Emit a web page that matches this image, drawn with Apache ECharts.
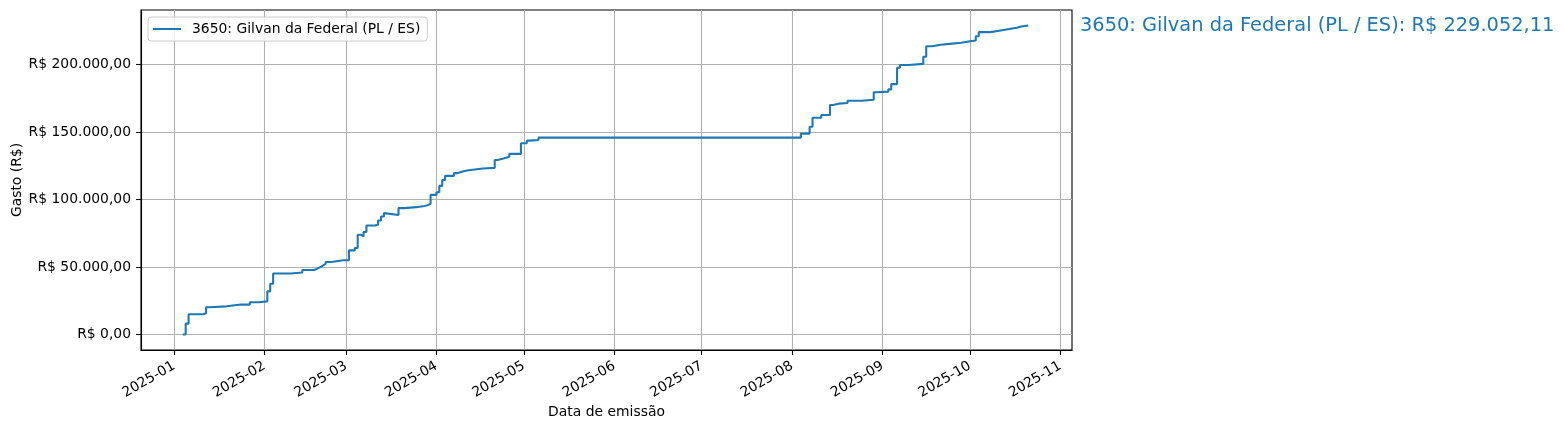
<!DOCTYPE html>
<html>
<head>
<meta charset="utf-8">
<script src="https://cdn.jsdelivr.net/npm/echarts@6/dist/echarts.min.js"></script>
<style>
html,body{margin:0;padding:0;background:#fff;}
#c{width:1565px;height:430px;}
</style>
</head>
<body>
<div id="c"></div>
<script>
// ---- DATA ----
const seriesName = '3650: Gilvan da Federal (PL / ES)';
const dates = [
  '2025-01-04','2025-01-05','2025-01-06','2025-01-11','2025-01-12','2025-01-13','2025-01-19','2025-01-24','2025-01-24','2025-01-27','2025-01-30',
  '2025-02-02','2025-02-03','2025-02-04','2025-02-10','2025-02-14','2025-02-18','2025-02-19','2025-02-20','2025-02-21','2025-02-22','2025-02-24','2025-02-28','2025-02-28',
  '2025-03-02','2025-03-04','2025-03-05','2025-03-06','2025-03-07','2025-03-08','2025-03-11','2025-03-12','2025-03-13','2025-03-14','2025-03-14','2025-03-19','2025-03-21','2025-03-25','2025-03-28','2025-03-29','2025-03-30',
  '2025-04-01','2025-04-02','2025-04-03','2025-04-04','2025-04-07','2025-04-08','2025-04-10','2025-04-12','2025-04-17','2025-04-21','2025-04-22','2025-04-24','2025-04-26','2025-04-28','2025-04-28','2025-04-30',
  '2025-05-02','2025-05-03','2025-05-06',
  '2025-08-04','2025-08-07','2025-08-08','2025-08-11','2025-08-14','2025-08-15','2025-08-17','2025-08-20','2025-08-25','2025-08-29','2025-08-30',
  '2025-09-03','2025-09-04','2025-09-06','2025-09-07','2025-09-10','2025-09-15','2025-09-16','2025-09-18','2025-09-21','2025-09-24','2025-09-28',
  '2025-10-01','2025-10-03','2025-10-03','2025-10-04','2025-10-08','2025-10-11','2025-10-14','2025-10-17','2025-10-19','2025-10-21'
];
const values = [
  0,8100,15000,15800,20200,20900,22200,21500,22200,23900,24600,
  32000,37700,45300,46000,47800,48600,49800,51000,52300,53800,55000,56100,55000,
  62400,64100,74000,72700,76000,80800,81600,84500,87500,90000,88600,93700,94400,95200,95900,96900,103500,
  105500,110200,114600,117600,119600,120800,121800,123000,123500,129400,130400,131800,133900,132900,133900,141800,
  143700,144200,145900,
  148900,154000,160700,162700,170100,171100,171600,173300,174000,179500,180000,
  181700,185600,197700,199700,200600,205800,213700,214700,215400,216200,217400,
  217900,219400,221100,224100,225100,226300,227300,228500,229052.11,229052.11
];
const xTickLabels = ['2025-01','2025-02','2025-03','2025-04','2025-05','2025-06','2025-07','2025-08','2025-09','2025-10','2025-11'];
const yTickValues = [0,50000,100000,150000,200000];
const xAxisTitle = 'Data de emissão';
const yAxisTitle = 'Gasto (R$)';

// ---- helpers ----
function toTs(s){ const p = s.split('-').map(Number); return Date.UTC(p[0], p[1]-1, p[2] || 1); }
function fmtMonth(v){ const d = new Date(v); return d.getUTCFullYear() + '-' + String(d.getUTCMonth()+1).padStart(2,'0'); }
function brl(v){
  const neg = v < 0; v = Math.abs(v);
  const fixed = v.toFixed(2);
  let [ip, dp] = fixed.split('.');
  ip = ip.replace(/\B(?=(\d{3})+(?!\d))/g, '.');
  return (neg ? '-' : '') + 'R$ ' + ip + ',' + dp;
}
const FONT = 'DejaVu Sans';
const data = dates.map((d,i)=>[toTs(d), values[i]]);
const xTicks = xTickLabels.map(toTs);
const dayMs = 86400000;
const xMin = toTs('2025-01-01') - 11.32*dayMs;
const xMax = toTs('2025-01-01') + 308.0*dayMs;
const yMaxData = Math.max.apply(null, values), yMinData = Math.min.apply(null, values);
const yPad = (yMaxData - yMinData) * 0.05;

const chart = echarts.init(document.getElementById('c'), null, {renderer:'canvas'});
chart.setOption({
  animation: false,
  backgroundColor: '#fff',
  textStyle: {fontFamily: FONT},
  grid: {left: 141, right: 493, top: 10, bottom: 80, containLabel: false, outerBoundsMode: 'none',
    show: true, borderColor: '#000', borderWidth: 1.1, backgroundColor: 'transparent'},
  legend: {
    left: 148, top: 17,
    data: [seriesName],
    icon: 'rect', itemWidth: 28, itemHeight: 2,
    backgroundColor: 'rgba(255,255,255,0.8)', borderColor: '#cccccc', borderWidth: 1, borderRadius: 3,
    padding: [5, 7, 5, 5],
    textStyle: {fontFamily: FONT, fontSize: 13.9, color: '#000', padding: [0,0,0,6]}
  },
  xAxis: {
    type: 'value', min: xMin, max: xMax, scale: true,
    name: xAxisTitle, nameLocation: 'middle', nameGap: 55, nameMoveOverlap: false,
    nameTextStyle: {fontFamily: FONT, fontSize: 13.9, color: '#000'},
    axisLine: {show: true, onZero: false, lineStyle: {color: '#000', width: 1.1}},
    axisTick: {show: true, length: 4.9, lineStyle: {color: '#000', width: 1.1}, customValues: xTicks},
    axisLabel: {customValues: xTicks, rotate: 30, margin: 15, fontFamily: FONT, fontSize: 13.9, color: '#000', hideOverlap: false,
      formatter: fmtMonth},
    splitLine: {show: true, lineStyle: {color: '#b0b0b0', width: 1.1}}
  },
  yAxis: {
    type: 'value', min: yMinData - yPad, max: yMaxData + yPad,
    name: yAxisTitle, nameLocation: 'middle', nameGap: 117, nameRotate: 90, nameMoveOverlap: false,
    nameTextStyle: {fontFamily: FONT, fontSize: 13.9, color: '#000'},
    axisLine: {show: true, onZero: false, lineStyle: {color: '#000', width: 1.1}},
    axisTick: {show: true, length: 4.9, lineStyle: {color: '#000', width: 1.1}, customValues: yTickValues},
    axisLabel: {customValues: yTickValues, margin: 10, fontFamily: FONT, fontSize: 13.9, color: '#000', formatter: brl},
    splitLine: {show: true, lineStyle: {color: '#b0b0b0', width: 1.1}}
  },
  series: [{
    name: seriesName, type: 'line', step: 'end', data: data,
    symbol: 'none', showSymbol: false,
    lineStyle: {color: '#1f77b4', width: 2.08},
    itemStyle: {color: '#1f77b4'}
  }]
});
const last = data[data.length-1];
const py = chart.convertToPixel({gridIndex: 0}, last)[1];
chart.setOption({
  graphic: [{
    type: 'text', left: 1080, top: py - 9,
    style: {text: seriesName + ': ' + brl(last[1]), fontFamily: FONT, fontSize: 19.4, fill: '#1f77b4'}
  }]
});
</script>
</body>
</html>
